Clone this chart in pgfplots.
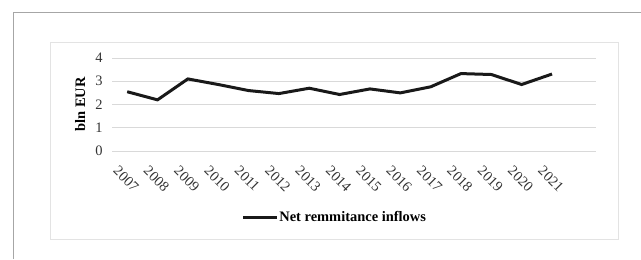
\documentclass[border=0pt]{standalone}
\usepackage{pgfplots}
\pgfplotsset{compat=1.18}
\usepackage{fontspec}
\setmainfont{Liberation Serif}
\begin{document}
\begin{tikzpicture}[x=1bp,y=1bp]
\path[use as bounding box] (0,0) rectangle (641,259);
\draw[color=gray!70, line width=1bp] (13,0) -- (13,246) -- (641,246);
\draw[color=gray!22, line width=1bp] (50,20) rectangle (618,217);
\begin{axis}[
  at={(112bp,108bp)}, anchor=south west, scale only axis,
  width=484bp, height=93bp,
  xmin=-0.5, xmax=15.45, ymin=0, ymax=4,
  xtick={0,1,2,3,4,5,6,7,8,9,10,11,12,13,14},
  xticklabels={2007,2008,2009,2010,2011,2012,2013,2014,2015,2016,2017,2018,2019,2020,2021},
  ytick={0,1,2,3,4},
  ymajorgrids, grid style={color=gray!30, line width=0.8bp},
  axis line style={draw=none}, tick style={draw=none},
  /pgf/number format/assume math mode=true,
  tick label style={font=\fontsize{14.5}{16}\selectfont, color=black!80},
  xticklabel style={rotate=-45, anchor=north west, xshift=1bp, yshift=-12bp},
  yticklabel style={xshift=-6bp},
  ylabel={\textbf{bln EUR}},
  ylabel style={font=\fontsize{14.5}{16}\selectfont, at={(axis description cs:-0.066,0.5)}, rotate=0, anchor=center},
  legend style={at={(axis description cs:0.459,-0.71)}, anchor=center, draw=none, fill=none,
    font=\fontsize{14.5}{16}\selectfont\bfseries, inner sep=0pt, nodes={inner sep=0.5bp}},
  legend image code/.code={\draw[#1, line width=3bp] (0bp,0bp) -- (34bp,0bp);},
  legend cell align=left,
]
\addplot[black!90, line width=3bp] coordinates {
(0,2.55) (1,2.2) (2,3.1) (3,2.86) (4,2.6) (5,2.47) (6,2.7) (7,2.43) (8,2.67) (9,2.5) (10,2.76) (11,3.33) (12,3.29) (13,2.86) (14,3.31)};
\addlegendentry{Net remmitance inflows}
\end{axis}
\end{tikzpicture}
\end{document}
